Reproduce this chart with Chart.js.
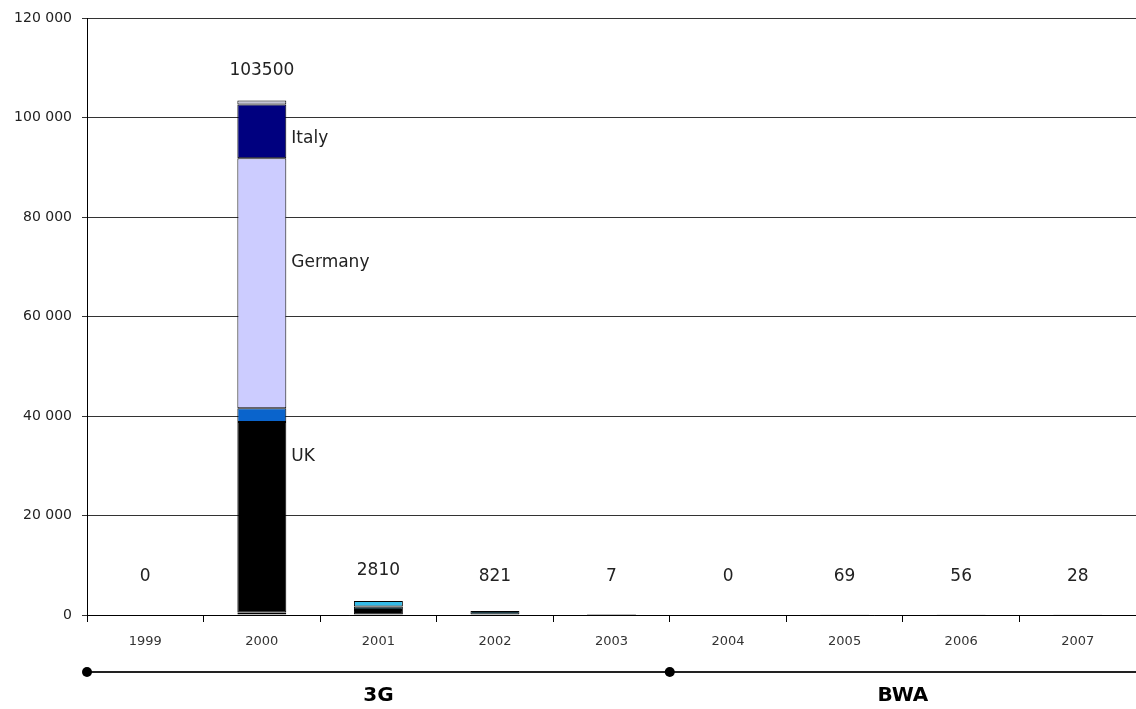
<!DOCTYPE html>
<html lang="en">
<head>
    <meta charset="UTF-8">
    <title>Spectrum auction revenues</title>
    <script src="https://cdn.jsdelivr.net/npm/chart.js"></script>
    <style>
        html, body { margin: 0; padding: 0; background: #fff; }
        #wrap { width: 1136px; height: 709px; }
    </style>
</head>
<body>
    <div id="wrap">
        <canvas id="auctionChart" width="1136" height="709"></canvas>
    </div>
    <script>
    // categories and stacked series
    var years = ['1999', '2000', '2001', '2002', '2003', '2004', '2005', '2006', '2007'];
    var redPart     = [0, 500,   0,    0,   0, 0, 0,  0,  0];
    var ukPart      = [0, 38300, 1000, 0,   0, 0, 0,  0,  0];
    var bluePart    = [0, 2800,  0,    0,   0, 0, 0,  0,  0];
    var tealPart    = [0, 0,     700,  821, 7, 0, 69, 56, 28];
    var cyanPart    = [0, 0,     1110, 0,   0, 0, 0,  0,  0];
    var germanyPart = [0, 50250, 0,    0,   0, 0, 0,  0,  0];
    var italyPart   = [0, 10850, 0,    0,   0, 0, 0,  0,  0];
    var topPart     = [0, 800,   0,    0,   0, 0, 0,  0,  0];

    var yTicks = [0, 20000, 40000, 60000, 80000, 100000, 120000];

    // country names written beside the 2000 bar, with the value they sit at
    var countryNames = ['UK', 'Germany', 'Italy'];
    var countryAt = [31900, 70800, 95900];

    // groups under the axis
    var groupNames = ['3G', 'BWA'];
    var groupStart = ['1999', '2004'];

    function seg(data, color) {
        return {
            data: data,
            backgroundColor: color,
            borderColor: '#000',
            borderWidth: function (c) { return c.raw > 0 ? 1 : 0; },
            borderSkipped: false
        };
    }

    var valueLabels = {
        id: 'valueLabels',
        afterDatasetsDraw: function (chart) {
            var ctx = chart.ctx;
            var x = chart.scales.x, y = chart.scales.y;
            ctx.save();
            ctx.fillStyle = '#222';
            ctx.font = '17px "DejaVu Sans"';
            ctx.textAlign = 'center';
            ctx.textBaseline = 'middle';
            years.forEach(function (yr, i) {
                var total = 0;
                chart.data.datasets.forEach(function (ds) { total += ds.data[i]; });
                var ty = Math.min(y.getPixelForValue(total) - 30, 577);
                ctx.fillText(String(total), x.getPixelForValue(i), ty);
            });

            // country names to the right of the 2000 bar
            var meta = chart.getDatasetMeta(1);
            var bar = meta.data[1];
            var left = bar.x + bar.width / 2 + 5;
            ctx.textAlign = 'left';
            countryNames.forEach(function (n, k) {
                ctx.fillText(n, left, y.getPixelForValue(countryAt[k]));
            });

            // group line with dots and names
            var area = chart.chartArea;
            var lineY = 672;
            var starts = groupStart.map(function (g) {
                var i = years.indexOf(g);
                return i === 0 ? area.left : (x.getPixelForValue(i - 1) + x.getPixelForValue(i)) / 2;
            });
            ctx.strokeStyle = '#222';
            ctx.lineWidth = 2;
            ctx.beginPath();
            ctx.moveTo(area.left, lineY);
            ctx.lineTo(chart.width, lineY);
            ctx.stroke();
            ctx.fillStyle = '#000';
            ctx.font = 'bold 20px "DejaVu Sans"';
            ctx.textAlign = 'center';
            starts.forEach(function (sx, k) {
                ctx.beginPath();
                ctx.arc(sx, lineY, 5, 0, Math.PI * 2);
                ctx.fill();
                var ex = k + 1 < starts.length ? starts[k + 1] : chart.width;
                ctx.fillText(groupNames[k], (sx + ex) / 2, lineY + 24);
            });
            ctx.restore();
        }
    };

    var ctx = document.getElementById('auctionChart').getContext('2d');
    var chart = new Chart(ctx, {
        type: 'bar',
        data: {
            labels: years,
            datasets: [
                seg(redPart, '#7a1028'),
                seg(ukPart, '#000000'),
                seg(bluePart, '#0a64cc'),
                seg(tealPart, '#1c3a44'),
                seg(cyanPart, '#33bbe8'),
                seg(germanyPart, '#ccccff'),
                seg(italyPart, '#00007f'),
                seg(topPart, '#c4c4d4')
            ]
        },
        plugins: [valueLabels],
        options: {
            responsive: false,
            animation: false,
            layout: { padding: { top: 18, right: 0, bottom: 50, left: 0 } },
            datasets: { bar: { categoryPercentage: 1, barPercentage: 0.42 } },
            plugins: { legend: { display: false }, tooltip: { enabled: false } },
            scales: {
                x: {
                    stacked: true,
                    offset: true,
                    afterFit: function (s) { s.height = 44; },
                    grid: { offset: true, drawOnChartArea: false, drawTicks: true, tickLength: 7, color: '#000' },
                    border: { color: '#000', width: 1 },
                    ticks: { color: '#333', padding: 12, font: { family: 'DejaVu Sans', size: 13 } }
                },
                y: {
                    stacked: true,
                    min: 0,
                    max: 120000,
                    afterFit: function (s) { s.width = 87; },
                    afterBuildTicks: function (s) { s.ticks = yTicks.map(function (v) { return { value: v }; }); },
                    grid: { color: '#333', tickLength: 5 },
                    border: { color: '#000', width: 1 },
                    ticks: {
                        color: '#222',
                        padding: 10,
                        font: { family: 'DejaVu Sans', size: 14 },
                        callback: function (v) { return String(v).replace(/\B(?=(\d{3})+(?!\d))/g, ' '); }
                    }
                }
            }
        }
    });
    </script>
</body>
</html>
